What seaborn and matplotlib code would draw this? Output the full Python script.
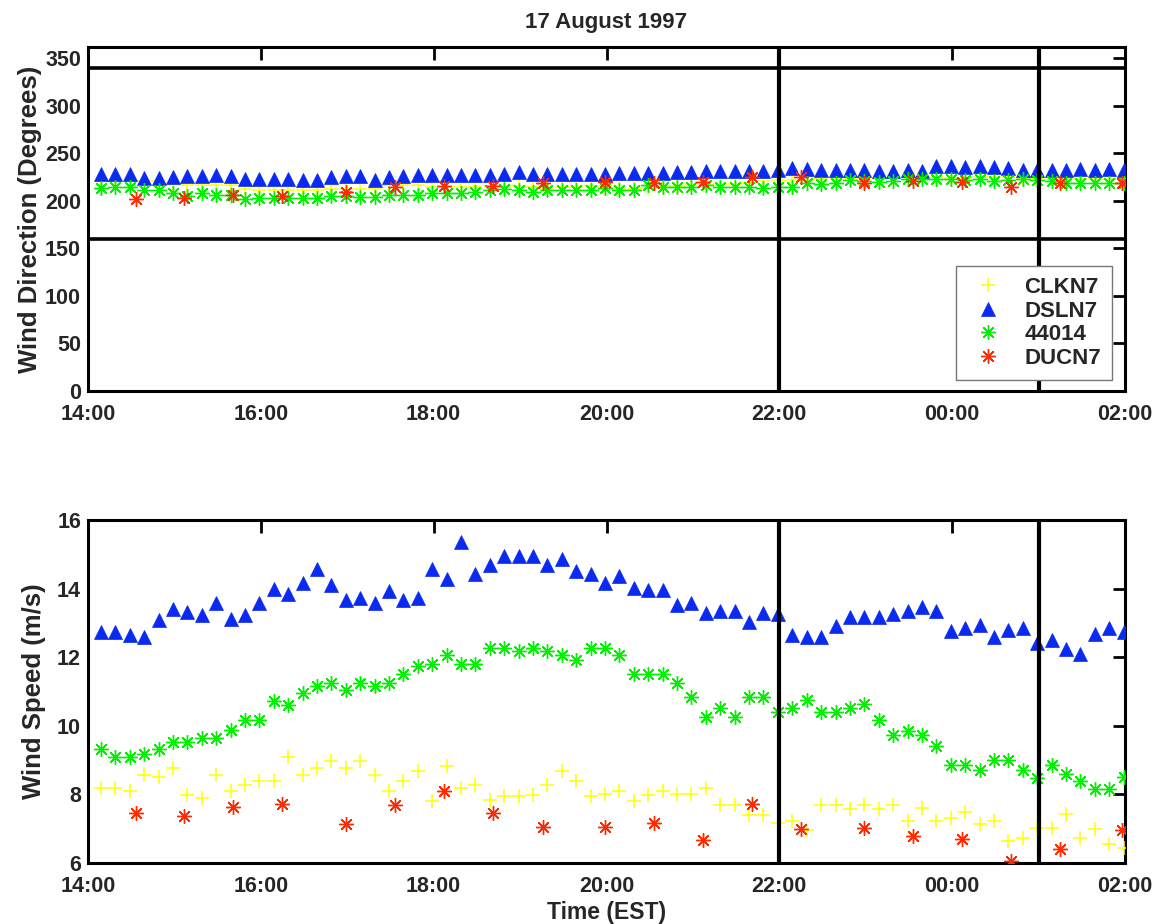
import numpy as np
import pandas as pd
import matplotlib
matplotlib.use("Agg")
import matplotlib.pyplot as plt
import seaborn as sns

# ---------------- data ----------------
title = "17 August 1997"
stations = ["CLKN7", "DSLN7", "44014", "DUCN7"]
tick_hours = [0, 2, 4, 6, 8, 10, 12]
tick_labels = ["14:00", "16:00", "18:00", "20:00", "22:00", "00:00", "02:00"]
event_hours = [8, 11]          # vertical guide lines (22:00, 01:00)
dir_guides = [160, 340]        # horizontal guide lines on direction panel

# 10-minute observations, minutes after 14:00
obs_minutes = np.arange(72) * 10 + 9
# DUCN7 observation times, minutes after 14:00
ducn7_minutes = [33, 67, 101, 135, 179, 213, 247, 281, 316, 359,
                 393, 427, 461, 495, 539, 573, 607, 641, 675, 718]

# Wind direction (degrees)
dir_clkn7 = [221, 221, 221, 221, 221, 218, 217, 217, 217, 217, 213, 212, 212, 212, 212, 212, 213, 213,
             213, 213, 217, 217, 217, 215, 215, 215, 215, 216, 216, 216, 215, 214, 215, 215, 216, 216,
             213, 213, 214, 216, 216, 217, 217, 218, 218, 219, 221, 222, 222, 222, 223, 223, 224, 224,
             224, 224, 225, 225, 225, 224, 224, 225, 225, 225, 224, 224, 223, 223, 223, 223, 223, 223]
dir_dsln7 = [228.8, 228.8, 228.8, 224.2, 224.2, 225.3, 226.7, 226.7, 227.7, 226.7, 223.2, 223.2,
             223.2, 223.2, 222.5, 222.5, 225.3, 226.0, 226.0, 222.5, 225.3, 226.7, 227.7, 227.7,
             227.7, 227.7, 227.7, 227.7, 228.8, 230.2, 228.8, 228.8, 228.8, 228.8, 228.8, 228.8,
             229.5, 229.5, 229.5, 229.5, 230.5, 230.5, 231.2, 231.2, 231.2, 231.2, 231.9, 233.0,
             234.7, 234.0, 233.0, 233.0, 233.0, 233.0, 231.2, 231.2, 233.0, 231.2, 236.5, 236.5,
             235.4, 236.5, 235.4, 234.7, 233.0, 233.0, 233.0, 233.0, 234.0, 233.0, 234.0, 233.0]
dir_44014 = [213.3, 215.1, 215.1, 211.6, 211.6, 208.8, 205.3, 208.1, 206.3, 206.3, 201.8, 203.5,
             203.5, 203.5, 203.5, 203.5, 205.3, 205.3, 204.6, 204.6, 206.3, 206.3, 206.3, 208.1,
             208.1, 208.8, 209.8, 211.6, 212.3, 211.6, 209.8, 211.6, 211.6, 211.6, 211.6, 213.3,
             211.6, 211.6, 216.8, 215.1, 215.1, 215.1, 216.8, 215.1, 215.1, 215.1, 214.0, 215.1,
             215.1, 218.6, 217.5, 218.6, 222.1, 221.0, 219.7, 221.0, 223.2, 223.2, 223.2, 223.2,
             222.1, 223.2, 221.0, 222.1, 223.2, 222.1, 221.0, 218.6, 218.6, 218.6, 218.6, 218.6]
dir_ducn7 = [201.8, 203.5, 206.3, 205.3, 209.8, 215.1, 215.8, 215.8, 219.3, 220.4,
             218.6, 220.4, 225.6, 225.6, 218.6, 221.0, 220.4, 215.1, 218.6, 218.6]

# Wind speed (m/s)
spd_clkn7 = [8.20, 8.20, 8.09, 8.57, 8.50, 8.77, 7.99, 7.89, 8.57, 8.09, 8.28, 8.38,
             8.38, 9.08, 8.57, 8.77, 8.98, 8.77, 8.98, 8.57, 8.09, 8.38, 8.67, 7.80,
             8.84, 8.20, 8.28, 7.84, 7.94, 7.94, 7.99, 8.28, 8.67, 8.38, 7.94, 8.01,
             8.09, 7.80, 7.99, 8.09, 8.01, 8.01, 8.20, 7.70, 7.70, 7.41, 7.41, 7.17,
             7.21, 6.97, 7.70, 7.70, 7.57, 7.70, 7.57, 7.70, 7.21, 7.60, 7.21, 7.31,
             7.50, 7.15, 7.21, 6.65, 6.73, 7.02, 7.02, 7.43, 6.73, 6.99, 6.55, 6.44]
spd_dsln7 = [12.74, 12.74, 12.65, 12.58, 13.09, 13.40, 13.32, 13.24, 13.57, 13.11, 13.23, 13.57,
             13.98, 13.84, 14.16, 14.56, 14.10, 13.67, 13.74, 13.57, 13.94, 13.67, 13.74, 14.57,
             14.28, 15.36, 14.44, 14.68, 14.96, 14.96, 14.96, 14.68, 14.85, 14.52, 14.43, 14.17,
             14.37, 14.02, 13.95, 13.95, 13.52, 13.59, 13.28, 13.34, 13.34, 13.02, 13.28, 13.27,
             12.65, 12.60, 12.60, 12.91, 13.18, 13.18, 13.18, 13.26, 13.35, 13.45, 13.35, 12.75,
             12.86, 12.93, 12.60, 12.78, 12.86, 12.41, 12.50, 12.23, 12.10, 12.67, 12.86, 12.74]
spd_44014 = [9.33, 9.09, 9.09, 9.18, 9.32, 9.52, 9.52, 9.64, 9.64, 9.88, 10.17, 10.17,
             10.73, 10.61, 10.95, 11.17, 11.26, 11.05, 11.26, 11.17, 11.26, 11.50, 11.73, 11.81,
             12.05, 11.81, 11.81, 12.26, 12.26, 12.17, 12.26, 12.17, 12.05, 11.92, 12.26, 12.26,
             12.05, 11.50, 11.50, 11.50, 11.26, 10.83, 10.27, 10.51, 10.27, 10.83, 10.83, 10.39,
             10.51, 10.74, 10.39, 10.39, 10.51, 10.63, 10.17, 9.74, 9.86, 9.74, 9.40, 8.86,
             8.86, 8.70, 9.01, 9.01, 8.72, 8.48, 8.86, 8.60, 8.38, 8.16, 8.16, 8.50]
spd_ducn7 = [7.46, 7.38, 7.63, 7.73, 7.15, 7.70, 8.09, 7.46, 7.05, 7.05,
             7.17, 6.66, 7.73, 6.99, 7.02, 6.80, 6.70, 6.05, 6.41, 6.95]

# ---------------- style ----------------
sns.set_theme(style="white")
FONT = ["Liberation Sans", "DejaVu Sans"]
plt.rcParams["font.family"] = FONT
plt.rcParams["font.weight"] = "bold"
plt.rcParams["axes.labelweight"] = "bold"
plt.rcParams["axes.titleweight"] = "bold"

colors = {"CLKN7": "#FFFF00", "DSLN7": "#0A2AF0", "44014": "#00F000", "DUCN7": "#FF2A00"}
markers = {"CLKN7": "+", "DSLN7": "^", "44014": (8, 2, 0), "DUCN7": (8, 2, 0)}
msize = {"CLKN7": 10.5, "DSLN7": 9.8, "44014": 10.5, "DUCN7": 10.5}
mew = {"CLKN7": 1.1, "DSLN7": 0.5, "44014": 1.0, "DUCN7": 1.0}

obs_hours = obs_minutes / 60.0
ducn7_hours = np.array(ducn7_minutes) / 60.0

dir_df = pd.DataFrame({"hours": obs_hours, "CLKN7": dir_clkn7, "DSLN7": dir_dsln7, "44014": dir_44014})
spd_df = pd.DataFrame({"hours": obs_hours, "CLKN7": spd_clkn7, "DSLN7": spd_dsln7, "44014": spd_44014})
duc_df = pd.DataFrame({"hours": ducn7_hours, "dir": dir_ducn7, "spd": spd_ducn7})

W, H = 1157, 924
fig = plt.figure(figsize=(W / 100, H / 100), dpi=100)
ax1 = fig.add_axes([88 / W, 1 - 391 / H, (1125 - 88) / W, (391 - 47) / H])
ax2 = fig.add_axes([88 / W, 1 - 863 / H, (1125 - 88) / W, (863 - 520) / H])


def draw(ax, df, duc_col, with_label):
    for st in stations:
        if st == "DUCN7":
            x, y = duc_df["hours"], duc_df[duc_col]
        else:
            x, y = df["hours"], df[st]
        sns.lineplot(x=x, y=y, ax=ax, color=colors[st], marker=markers[st],
                     markersize=msize[st], markeredgewidth=mew[st],
                     markeredgecolor=colors[st], markerfacecolor=colors[st],
                     linestyle="none", estimator=None, sort=False,
                     label=st if with_label else None, zorder=3)


draw(ax1, dir_df, "dir", True)
draw(ax2, spd_df, "spd", False)

for ax in (ax1, ax2):
    for h in event_hours:
        ax.axvline(h, color="black", lw=3, zorder=4)
    ax.set_xlim(0, 12)
    ax.set_xticks(tick_hours)
    ax.set_xticklabels(tick_labels)
    ax.tick_params(direction="in", length=9, width=2, top=True, right=True,
                   labelsize=15, pad=5, color="black")
    for sp in ax.spines.values():
        sp.set_linewidth(2.2)
        sp.set_color("black")
    ax.grid(False)

ax1.tick_params(axis="x", pad=9.5)
ax2.tick_params(axis="x", pad=9.5)

for g in dir_guides:
    ax1.axhline(g, color="black", lw=2.6, zorder=4)

ax1.set_ylim(0, 362)
ax1.set_yticks([0, 50, 100, 150, 200, 250, 300, 350])
ax1.set_ylabel("Wind Direction (Degrees)", fontsize=18.5, fontweight="bold", labelpad=2)
ax1.set_xlabel("")
ax1.set_title(title, fontsize=16, fontweight="bold", pad=14)

ax2.set_ylim(6, 16)
ax2.set_yticks([6, 8, 10, 12, 14, 16])
ax2.set_ylabel("Wind Speed (m/s)", fontsize=18.5, fontweight="bold", labelpad=8)
ax2.set_xlabel("Time (EST)", fontsize=16.5, fontweight="bold", labelpad=3)

for ax in (ax1, ax2):
    for lab in ax.get_xticklabels() + ax.get_yticklabels():
        lab.set_fontweight("bold")
        lab.set_fontsize(15.5)

leg = ax1.legend(loc="lower right", bbox_to_anchor=(0.9875, 0.032), borderaxespad=0,
                 frameon=True, fancybox=False, edgecolor="#777777", framealpha=1,
                 prop={"family": FONT, "weight": "bold", "size": 16},
                 handlelength=1.8, handletextpad=0.75, labelspacing=0.12,
                 borderpad=0.5)
leg.get_frame().set_linewidth(1.0)
leg.set_zorder(10)

fig.savefig("out.png", dpi=100)
